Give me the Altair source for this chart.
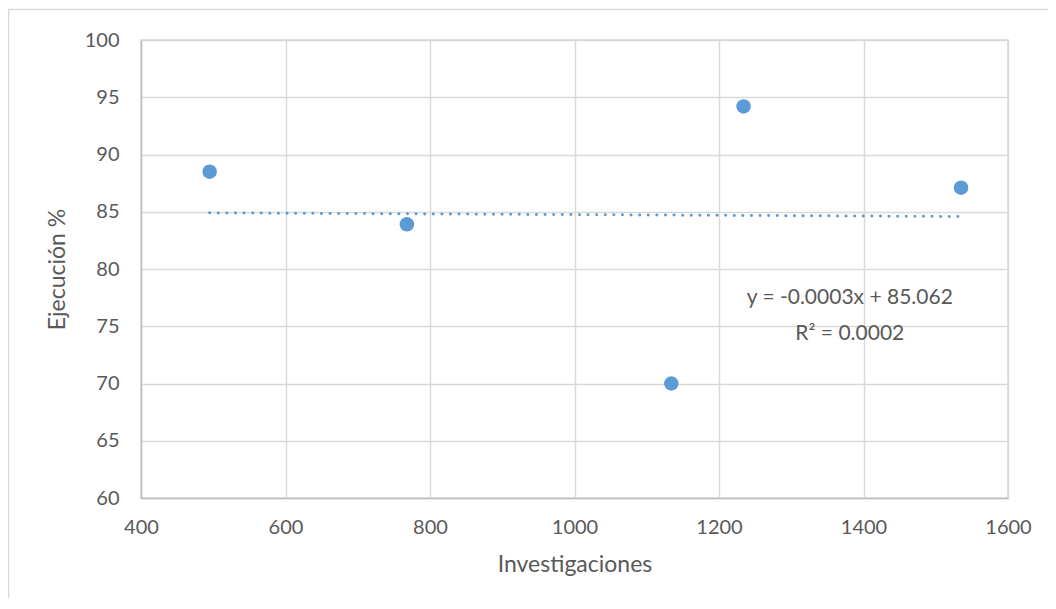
import altair as alt
import pandas as pd

investigaciones = [495, 768, 1134, 1234, 1535]
ejecucion = [88.5, 83.9, 70.0, 94.2, 87.1]

eq_text = ["y = -0.0003x + 85.062", "R² = 0.0002"]
eq_x = [1381, 1381]
eq_y = [76.9, 73.8]

df = pd.DataFrame({"x": investigaciones, "y": ejecucion})
df_eq = pd.DataFrame({"t": eq_text, "x": eq_x, "y": eq_y})

FONT = "Lato"
BLUE = "#5B9BD5"
GRAY_TXT = "#595959"

xscale = alt.Scale(domain=[400, 1600], nice=False, zero=False)
yscale = alt.Scale(domain=[60, 100], nice=False, zero=False)

xaxis = alt.Axis(values=[400, 600, 800, 1000, 1200, 1400, 1600], title="Investigaciones",
                 ticks=False, labelPadding=19, titlePadding=16, format="d", labelFlush=False)
yaxis = alt.Axis(values=[60, 65, 70, 75, 80, 85, 90, 95, 100], title="Ejecución %",
                 ticks=False, labelPadding=22, titlePadding=15, labelFlush=False)

base = alt.Chart(df)

points = base.mark_circle(size=210, color=BLUE, opacity=1).encode(
    x=alt.X("x:Q", scale=xscale, axis=xaxis),
    y=alt.Y("y:Q", scale=yscale, axis=yaxis),
)

trend = base.transform_regression("x", "y").mark_line(
    color=BLUE, strokeWidth=3, strokeDash=[0.1, 8.5], strokeCap="round"
).encode(x=alt.X("x:Q", scale=xscale), y=alt.Y("y:Q", scale=yscale))

eq = alt.Chart(df_eq).mark_text(font=FONT, fontSize=21, color=GRAY_TXT, baseline="alphabetic",
                                align="center").encode(
    x=alt.X("x:Q", scale=xscale), y=alt.Y("y:Q", scale=yscale), text="t:N"
)

border_left = alt.Chart(pd.DataFrame({"a": [0]})).mark_rule(color="#d9d9d9", strokeWidth=1.5, clip=False).encode(
    x=alt.value(-132.5), y=alt.value(-31), y2=alt.value(600)
)
border_top = alt.Chart(pd.DataFrame({"a": [0]})).mark_rule(color="#d9d9d9", strokeWidth=1.5, clip=False).encode(
    x=alt.value(-133), x2=alt.value(920), y=alt.value(-30.5)
)

chart = alt.layer(border_left, border_top, trend, points, eq).properties(
    width=867, height=458,
    background="white",
    autosize=alt.AutoSizeParams(type="none"),
    padding={"left": 133, "top": 32, "right": 40, "bottom": 100},
).configure_view(stroke="#d9d9d9", strokeWidth=1.5).configure_axis(
    labelFont=FONT, titleFont=FONT, labelColor=GRAY_TXT, titleColor=GRAY_TXT,
    labelFontSize=20, titleFontSize=23, titleFontWeight="normal",
    gridColor="#d9d9d9", gridWidth=1.5, domainColor="#bfbfbf", domainWidth=1.5,
)

chart.save("out.html", embed_options={"renderer": "svg", "actions": False})
